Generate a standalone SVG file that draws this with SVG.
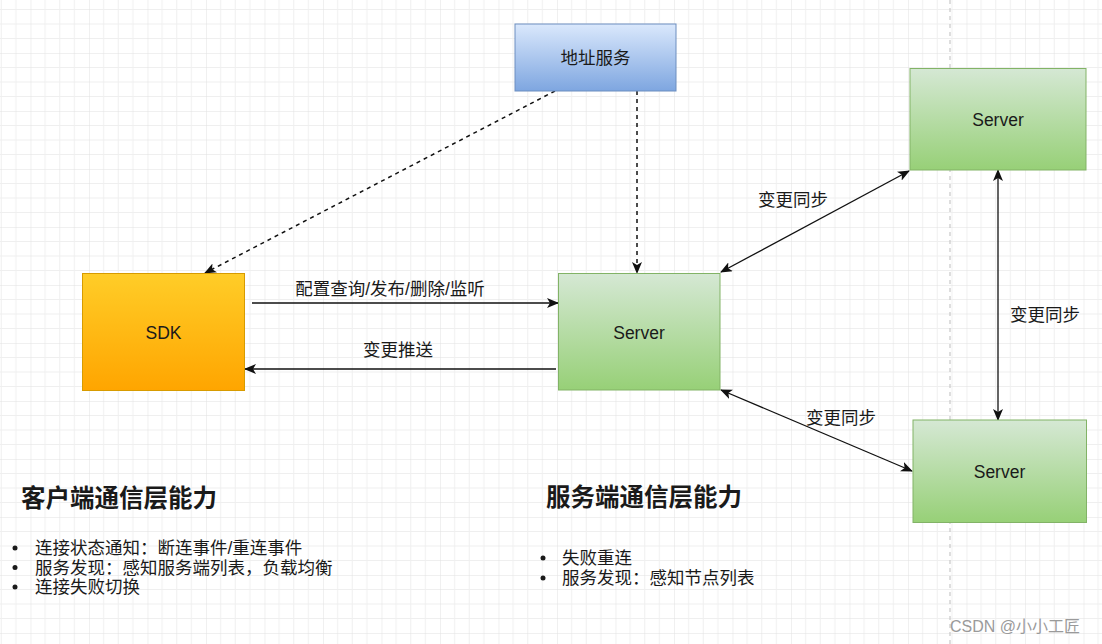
<svg xmlns="http://www.w3.org/2000/svg" width="1102" height="644" viewBox="0 0 1102 644">
<defs>
<pattern id="grid" x="-28" y="-5" width="58.5" height="58" patternUnits="userSpaceOnUse">
<path d="M14.625 0V58M29.25 0V58M43.875 0V58M0 14.5H58.5M0 29H58.5M0 43.5H58.5" stroke="#efefef" stroke-width="1" fill="none"/>
<path d="M0 0V58M0 0H58.5" stroke="#e2e2e2" stroke-width="1" fill="none"/>
</pattern>
<linearGradient id="gBlue" x1="0" y1="0" x2="0" y2="1"><stop offset="0" stop-color="#dae8fc"/><stop offset="1" stop-color="#7ea6e0"/></linearGradient>
<linearGradient id="gOrange" x1="0" y1="0" x2="0" y2="1"><stop offset="0" stop-color="#ffcd28"/><stop offset="1" stop-color="#ffa500"/></linearGradient>
<linearGradient id="gGreen" x1="0" y1="0" x2="0" y2="1"><stop offset="0" stop-color="#d5e8d4"/><stop offset="1" stop-color="#97d077"/></linearGradient>
<marker id="arr" viewBox="0 0 12 10" refX="11" refY="5" markerWidth="12" markerHeight="10" markerUnits="userSpaceOnUse" orient="auto-start-reverse">
<path d="M0,0 L12,5 L0,10 L3,5 z" fill="#111"/>
</marker>
<style>
text{font-family:"Liberation Sans","Noto Sans CJK SC",sans-serif;fill:#1a1a1a}
.lbl{font-size:17.5px;text-anchor:middle}
.ttl{font-size:24.5px;font-weight:bold}
.bul{font-size:17.5px}
.ln{stroke:#111;stroke-width:1.5;fill:none}
.thin{stroke:#111;stroke-width:1.3;fill:none}
.dash{stroke:#111;stroke-width:1.5;fill:none;stroke-dasharray:4 4}
</style>
</defs>
<rect width="1102" height="644" fill="#ffffff"/>
<rect width="1102" height="644" fill="url(#grid)"/>
<line x1="950" y1="0" x2="950" y2="644" stroke="#c8c8c8" stroke-width="1.2" stroke-dasharray="4 4"/>

<g id="connectors">
<line class="dash" x1="555" y1="91" x2="205" y2="273" marker-end="url(#arr)"/>
<line class="dash" x1="637" y1="91" x2="637" y2="273" marker-end="url(#arr)"/>
<line class="ln" x1="252" y1="303" x2="558" y2="303" marker-end="url(#arr)"/>
<line class="ln" x1="556" y1="369" x2="245" y2="369" marker-end="url(#arr)"/>
<line class="thin" x1="721" y1="272" x2="909" y2="171" marker-start="url(#arr)" marker-end="url(#arr)"/>
<line class="thin" x1="721" y1="390" x2="912" y2="471" marker-start="url(#arr)" marker-end="url(#arr)"/>
<line class="thin" x1="998" y1="170" x2="998" y2="420" marker-start="url(#arr)" marker-end="url(#arr)"/>
<text class="lbl" x="390" y="295">配置查询/发布/删除/监听</text>
<text class="lbl" x="398" y="356">变更推送</text>
<text class="lbl" x="793" y="206">变更同步</text>
<text class="lbl" x="841" y="424">变更同步</text>
<text class="lbl" x="1045" y="321">变更同步</text>
</g>

<g id="addr">
<rect x="515" y="24" width="161" height="67" fill="url(#gBlue)" stroke="#6c8ebf" stroke-width="1"/>
<text class="lbl" x="595.5" y="64">地址服务</text>
</g>
<g id="sdk">
<rect x="82.5" y="273.5" width="162" height="117" fill="url(#gOrange)" stroke="#d79b00" stroke-width="1"/>
<text class="lbl" x="163.5" y="339">SDK</text>
</g>
<g id="server-center">
<rect x="558.5" y="273.5" width="161.5" height="116.5" fill="url(#gGreen)" stroke="#82b366" stroke-width="1"/>
<text class="lbl" x="639" y="339">Server</text>
</g>
<g id="server-top">
<rect x="910" y="68.5" width="176" height="101.5" fill="url(#gGreen)" stroke="#82b366" stroke-width="1"/>
<text class="lbl" x="998" y="126">Server</text>
</g>
<g id="server-bottom">
<rect x="913" y="420" width="173.5" height="102.5" fill="url(#gGreen)" stroke="#82b366" stroke-width="1"/>
<text class="lbl" x="999.5" y="478">Server</text>
</g>

<g id="client-notes">
<text class="ttl" x="21" y="507">客户端通信层能力</text>
<circle cx="15" cy="548" r="2.5" fill="#1a1a1a"/>
<circle cx="15" cy="567.5" r="2.5" fill="#1a1a1a"/>
<circle cx="15" cy="587" r="2.5" fill="#1a1a1a"/>
<text class="bul" x="35" y="554">连接状态通知：断连事件/重连事件</text>
<text class="bul" x="35" y="573.5">服务发现：感知服务端列表，负载均衡</text>
<text class="bul" x="35" y="593">连接失败切换</text>
</g>
<g id="server-notes">
<text class="ttl" x="546" y="506">服务端通信层能力</text>
<circle cx="543" cy="558" r="2.5" fill="#1a1a1a"/>
<circle cx="543" cy="578" r="2.5" fill="#1a1a1a"/>
<text class="bul" x="562" y="564">失败重连</text>
<text class="bul" x="562" y="584">服务发现：感知节点列表</text>
</g>
<text x="950" y="632" style="font-size:16px;fill:#9a9a9a">CSDN @小小工匠</text>
</svg>
